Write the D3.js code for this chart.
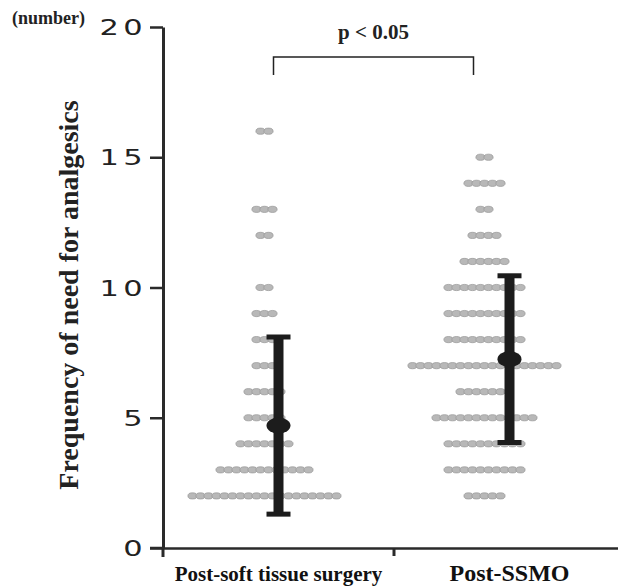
<!DOCTYPE html>
<html>
<head>
<meta charset="utf-8">
<script src="https://cdn.jsdelivr.net/npm/d3@7"></script>
<style>
  html, body { margin: 0; padding: 0; background: #fff; }
  svg { display: block; }
</style>
</head>
<body>
<svg id="chart" width="618" height="588"></svg>
<script>
// ---- data ----
const categories = ["Post-soft tissue surgery", "Post-SSMO"];
const softValues = [2, 3, 4, 5, 6, 7, 8, 9, 10, 12, 13, 16];
const softCounts = [19, 12, 7, 5, 5, 3, 3, 3, 2, 2, 3, 2];
const ssmoValues = [2, 3, 4, 5, 6, 7, 8, 9, 10, 11, 12, 13, 14, 15];
const ssmoCounts = [5, 10, 10, 13, 7, 19, 10, 10, 10, 6, 4, 2, 5, 2];
const means = [4.7, 7.25];
const sds = [3.4, 3.2];
const yTicks = [0, 5, 10, 15, 20];
const yTickLabels = ["0", "5", "10", "15", "20"];
const pText = "p < 0.05";

// ---- layout ----
const svg = d3.select("#chart");
const y = d3.scaleLinear().domain([0, 20]).range([548, 27]);
const x = d3.scaleBand().domain(categories).range([163, 625]).padding(0);
const bw = x.bandwidth();
const dotShift = [-14, -25];
const dotStep = 8;

const groups = [
  { values: softValues, counts: softCounts },
  { values: ssmoValues, counts: ssmoCounts }
];

// dots
groups.forEach((g, gi) => {
  const cx = x(categories[gi]) + bw / 2 + dotShift[gi];
  const pts = [];
  g.values.forEach((v, i) => {
    const n = g.counts[i];
    for (let k = 0; k < n; k++) {
      pts.push({ v, off: (k - (n - 1) / 2) * dotStep });
    }
  });
  svg.append("g").selectAll("ellipse").data(pts).join("ellipse")
    .attr("cx", d => cx + d.off)
    .attr("cy", d => y(d.v))
    .attr("rx", 4.6).attr("ry", 3.1)
    .attr("fill", "#b8b8b8")
    .attr("stroke", "#959595")
    .attr("stroke-width", 0.7);
});

// error bars
categories.forEach((c, i) => {
  const cx = x(c) + bw / 2;
  const g = svg.append("g").attr("fill", "#1c1c1c").attr("stroke", "#1c1c1c");
  g.append("line")
    .attr("x1", cx).attr("x2", cx)
    .attr("y1", y(means[i] + sds[i])).attr("y2", y(means[i] - sds[i]))
    .attr("stroke-width", 10);
  [means[i] + sds[i], means[i] - sds[i]].forEach(v => {
    g.append("line")
      .attr("x1", cx - 12).attr("x2", cx + 12)
      .attr("y1", y(v)).attr("y2", y(v))
      .attr("stroke-width", 5);
  });
  g.append("ellipse")
    .attr("cx", cx).attr("cy", y(means[i]))
    .attr("rx", 12).attr("ry", 8)
    .attr("stroke", "none");
});

// y axis
const yAxis = svg.append("g")
  .attr("transform", "translate(163,0)")
  .call(d3.axisLeft(y).tickValues(yTicks).tickSize(13).tickSizeOuter(0).tickFormat(""));
yAxis.select(".domain").attr("stroke", "#2a2a2a").attr("stroke-width", 3);
yAxis.selectAll(".tick line").attr("stroke", "#2a2a2a").attr("stroke-width", 2.5);
svg.append("line").attr("x1", 163).attr("x2", 163)
  .attr("y1", y(0)).attr("y2", y(0) + 9)
  .attr("stroke", "#2a2a2a").attr("stroke-width", 3);

// y tick labels (wide geometric digits)
svg.append("g").selectAll("text").data(yTicks).join("text")
  .attr("transform", d => `translate(147,${y(d) + 8}) scale(1.45,1)`)
  .attr("text-anchor", "end")
  .attr("font-family", "DejaVu Sans, sans-serif")
  .attr("font-size", 21)
  .attr("letter-spacing", 3)
  .attr("fill", "#222")
  .text((d, i) => yTickLabels[i]);

// "(number)"
svg.append("text")
  .attr("x", 12).attr("y", 24)
  .attr("font-family", "Liberation Serif, serif")
  .attr("font-weight", "bold")
  .attr("font-size", 18)
  .attr("fill", "#222")
  .text("(number)");

// y title
svg.append("text")
  .attr("transform", `translate(78,295) rotate(-90)`)
  .attr("text-anchor", "middle")
  .attr("font-family", "Liberation Serif, serif")
  .attr("font-weight", "bold")
  .attr("font-size", 28)
  .attr("fill", "#222")
  .text("Frequency of need for analgesics");

// x axis
const xAxis = svg.append("g")
  .attr("transform", `translate(0,${y(0)})`)
  .call(d3.axisBottom(x).tickSize(0).tickSizeOuter(0).tickFormat(""));
xAxis.select(".domain").attr("stroke", "#2a2a2a").attr("stroke-width", 2.5);
svg.append("line").attr("x1", 150).attr("x2", 163)
  .attr("y1", y(0)).attr("y2", y(0)).attr("stroke", "#2a2a2a").attr("stroke-width", 2.5);
svg.append("line")
  .attr("x1", x(categories[1])).attr("x2", x(categories[1]))
  .attr("y1", y(0)).attr("y2", y(0) + 8)
  .attr("stroke", "#2a2a2a").attr("stroke-width", 3);

// x labels
const labelSizes = [21, 24];
svg.append("g").selectAll("text").data(categories).join("text")
  .attr("x", d => x(d) + bw / 2)
  .attr("y", 581)
  .attr("text-anchor", "middle")
  .attr("font-family", "Liberation Serif, serif")
  .attr("font-weight", "bold")
  .attr("font-size", (d, i) => labelSizes[i])
  .attr("fill", "#111")
  .text(d => d);

// significance bracket
const bx1 = x(categories[0]) + bw / 2 - 5;
const bx2 = x(categories[1]) + bw / 2 - 36;
svg.append("path")
  .attr("d", `M${bx1},75V57H${bx2}V75`)
  .attr("fill", "none")
  .attr("stroke", "#222")
  .attr("stroke-width", 1.5);
svg.append("text")
  .attr("x", (bx1 + bx2) / 2).attr("y", 39)
  .attr("text-anchor", "middle")
  .attr("font-family", "Liberation Serif, serif")
  .attr("font-weight", "bold")
  .attr("font-size", 21)
  .attr("fill", "#222")
  .text(pText);
</script>
</body>
</html>
